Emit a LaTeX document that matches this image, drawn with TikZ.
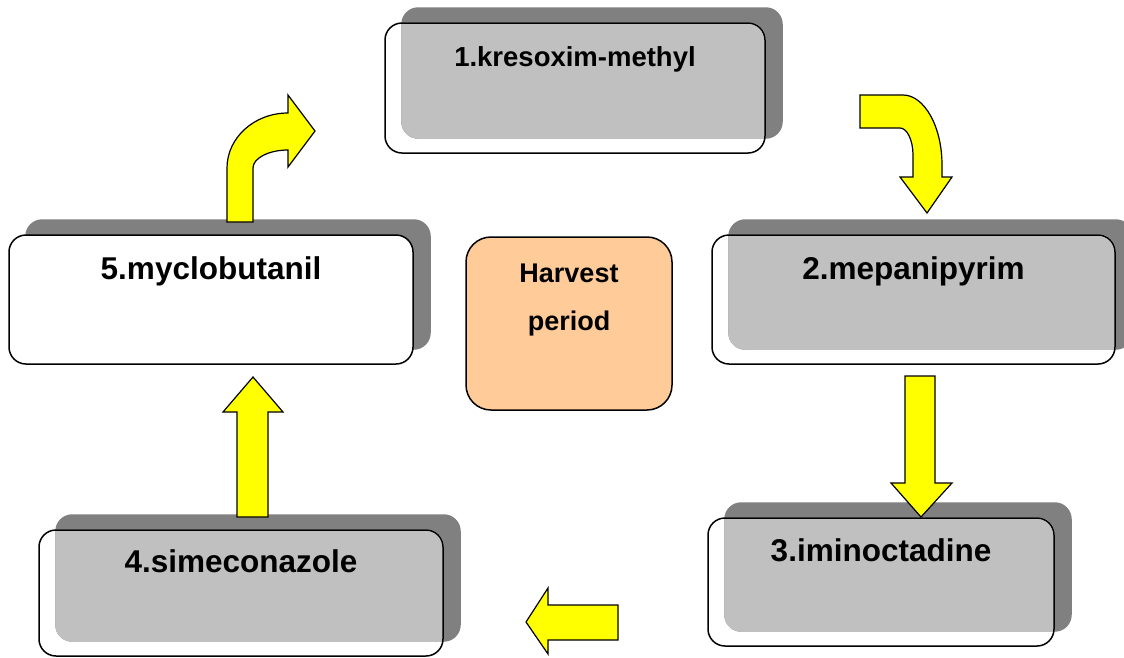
\documentclass[tikz,border=0pt]{standalone}
\usepackage{fontspec}
\setmainfont{Liberation Sans}
\usepackage{xcolor}
\definecolor{darkshade}{HTML}{808080}
\definecolor{lightshade}{HTML}{C0C0C0}
\definecolor{harvestfill}{HTML}{FFCC99}
\definecolor{arrowfill}{HTML}{FFFF00}
\usepackage{tikz}
\usetikzlibrary{calc,backgrounds}

\begin{document}
\begin{tikzpicture}[x=1pt, y=-1pt,
  stagebox/.style={draw, line width=1.5pt, rounded corners=17pt, inner sep=0pt},
  stagetext/.style={anchor=base, inner sep=0pt, font=\bfseries\fontsize{31.5}{36}\selectfont},
  blockarrow/.style={draw, line width=1.2pt, fill=arrowfill, line join=miter}]
  \useasboundingbox (0,0) rectangle (1124,657);

  % Fungicide boxes
  \node[stagebox, minimum width=380pt, minimum height=130pt] (kreso) at (575,88) {};
  \node[stagebox, minimum width=403pt, minimum height=129pt] (mepa) at (913.5,299.5) {};
  \node[stagebox, minimum width=346pt, minimum height=128pt] (imino) at (881,582) {};
  \node[stagebox, minimum width=404pt, minimum height=126pt] (sime) at (241,593) {};
  \node[stagebox, fill=white, minimum width=404pt, minimum height=129pt] (myclo) at (211,299.5) {};

  % Shadows
  \begin{scope}[on background layer]
    \foreach \b in {kreso,mepa,imino,sime,myclo}
      \fill[darkshade, rounded corners=17pt] ([shift={(17pt,15pt)}]\b.south west) rectangle ([shift={(17pt,15pt)}]\b.north east);
    \foreach \b in {kreso,mepa,imino,sime} {
      \begin{scope}
        \clip[rounded corners=17pt] (\b.south west) rectangle (\b.north east);
        \fill[lightshade, rounded corners=17pt] ([shift={(17pt,15pt)}]\b.south west) rectangle ([shift={(17pt,15pt)}]\b.north east);
      \end{scope}
    }
  \end{scope}

  % Labels
  \node[stagetext, font=\bfseries\fontsize{27.5}{32}\selectfont] (kresotext) at ([yshift=-44pt]kreso.north) {1.kresoxim-methyl};
  \node[stagetext] (mepatext) at ([yshift=-45pt]mepa.north) {2.mepanipyrim};
  \node[stagetext] (iminotext) at ([yshift=-44pt]imino.north) {3.iminoctadine};
  \node[stagetext] (simetext) at ([yshift=-43pt]sime.north) {4.simeconazole};
  \node[stagetext] (myclotext) at ([yshift=-45pt]myclo.north) {5.myclobutanil};

  % Centre box
  \node[draw, line width=1.5pt, rounded corners=25pt, fill=harvestfill, minimum width=206pt, minimum height=173pt] (harvest) at (569,323.5) {};
  \node[stagetext, font=\bfseries\fontsize{27}{30}\selectfont] (harvesttop) at ([yshift=-46pt]harvest.north) {Harvest};
  \node[stagetext, font=\bfseries\fontsize{27}{30}\selectfont] (harvestbot) at ([yshift=-94pt]harvest.north) {period};

  % Block arrows
  \draw[blockarrow] (860,95) -- (903,95) .. controls (924,95) and (942,126) .. (942,165)
    -- (942,177) -- (952,177) -- (927,213) -- (900,177) -- (913,177) -- (913,155)
    .. controls (913,140) and (907,128) .. (900,128) -- (860,128) -- cycle;
  \draw[blockarrow] (905,376) -- (935,376) -- (935,483) -- (952,483) -- (921,517) -- (891,483) -- (905,483) -- cycle;
  \draw[blockarrow] (618,605) -- (548,605) -- (548,588) -- (526,622) -- (548,654) -- (548,640) -- (618,640) -- cycle;
  \draw[blockarrow] (237,517) -- (237,412) -- (223,412) -- (253,377) -- (283,412) -- (268,412) -- (268,517) -- cycle;
  \draw[blockarrow] (227,222) -- (227,168) .. controls (227,138) and (254,113) .. (288,113)
    -- (288,95) -- (315,131) -- (288,167) -- (288,150)
    .. controls (269,150) and (253,158) .. (253,168) -- (253,222) -- cycle;
\end{tikzpicture}
\end{document}
